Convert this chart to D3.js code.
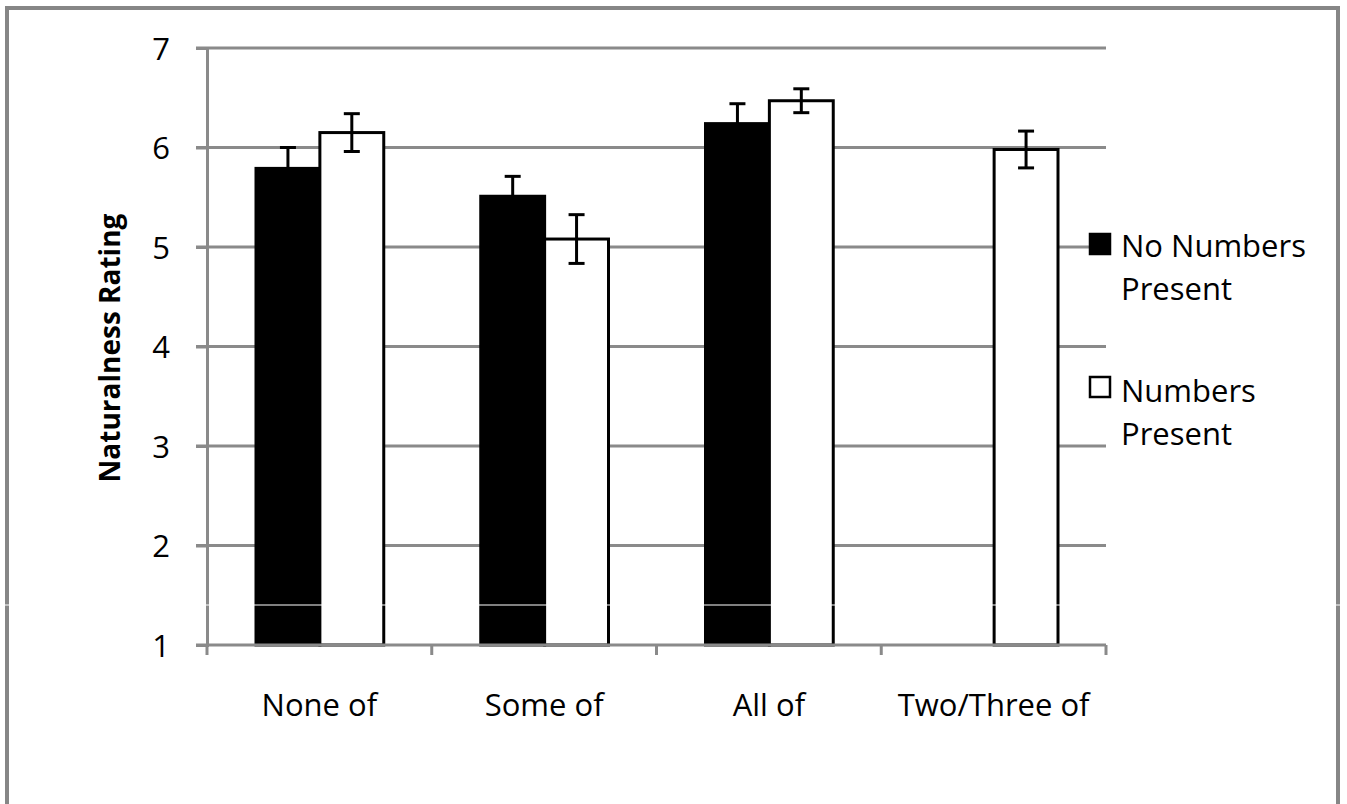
<!DOCTYPE html>
<html><head><meta charset="utf-8">
<script src="https://cdn.jsdelivr.net/npm/d3@7"></script>
<style>body{margin:0;background:#fff}svg{display:block}text{font-family:"Open Sans","Liberation Sans",sans-serif}</style>
</head><body>
<script>
const categories = ["None of", "Some of", "All of", "Two/Three of"];
const seriesNames = ["No Numbers Present", "Numbers Present"];
const noNumbers = [5.79, 5.51, 6.24, null];
const noNumbersErr = [0.21, 0.20, 0.20, null];
const numbers = [6.15, 5.08, 6.47, 5.98];
const numbersErr = [0.19, 0.245, 0.12, 0.185];
const yTicks = [1, 2, 3, 4, 5, 6, 7];

const W = 1347, H = 804;
const svg = d3.select("body").append("svg").attr("width", W).attr("height", H);

// outer frame
svg.append("path").attr("d", `M7,${H} V8 H1338 V${H}`).attr("fill","none").attr("stroke","#868686").attr("stroke-width",4);

const x0 = d3.scaleBand().domain(categories).range([207, 1106]).paddingInner(0).paddingOuter(0);
const x1 = d3.scaleBand().domain(seriesNames).range([49, x0.bandwidth() - 48]);
const y = d3.scaleLinear().domain([1, 7]).range([645, 48]);

const grid = "#8a8a8a";
// gridlines
svg.append("g").selectAll("line").data(yTicks.filter(t => t > 1)).join("line")
  .attr("x1", 196).attr("x2", 1106).attr("y1", d => y(d)).attr("y2", d => y(d))
  .attr("stroke", grid).attr("stroke-width", 3);

// y axis
const yAxis = svg.append("g").attr("transform", "translate(207,0)")
  .call(d3.axisLeft(y).tickValues(yTicks).tickSize(11).tickPadding(26).tickFormat(d3.format("d")));
yAxis.select(".domain").attr("stroke", grid).attr("stroke-width", 3);
yAxis.selectAll(".tick line").attr("stroke", grid).attr("stroke-width", 3);
yAxis.selectAll(".tick text").attr("font-size", 31).attr("fill", "#000").attr("dy", "0.36em");

// bars
const data = categories.map((c, i) => ({c, vals: [
  {s: seriesNames[0], v: noNumbers[i], e: noNumbersErr[i]},
  {s: seriesNames[1], v: numbers[i], e: numbersErr[i]}
]}));
const groups = svg.append("g").selectAll("g").data(data).join("g")
  .attr("transform", d => `translate(${x0(d.c)},0)`);
const items = groups.selectAll("g").data(d => d.vals.filter(v => v.v != null)).join("g");
items.append("rect")
  .attr("x", d => x1(d.s)).attr("width", x1.bandwidth())
  .attr("y", d => y(d.v)).attr("height", d => y(1) - y(d.v))
  .attr("fill", d => d.s === seriesNames[0] ? "#000" : "#fff")
  .attr("stroke", "#000").attr("stroke-width", 3);
// error bars
items.append("line")
  .attr("x1", d => x1(d.s) + x1.bandwidth()/2).attr("x2", d => x1(d.s) + x1.bandwidth()/2)
  .attr("y1", d => y(d.v + d.e)).attr("y2", d => y(d.v - d.e))
  .attr("stroke", "#000").attr("stroke-width", 3);
items.selectAll("line.cap").data(d => [d.v + d.e, d.v - d.e].map(v => ({v, d}))).join("line")
  .attr("class","cap")
  .attr("x1", k => x1(k.d.s) + x1.bandwidth()/2 - 8).attr("x2", k => x1(k.d.s) + x1.bandwidth()/2 + 8)
  .attr("y1", k => y(k.v)).attr("y2", k => y(k.v))
  .attr("stroke", "#000").attr("stroke-width", 3);

// x axis
const xAxis = svg.append("g").attr("transform", `translate(0,${y(1)})`);
xAxis.append("line").attr("x1", 196).attr("x2", 1106).attr("y1", 0).attr("y2", 0).attr("stroke", grid).attr("stroke-width", 3);
const xt = x0.domain().map(c => x0(c)).concat([x0.range()[1]]);
xAxis.selectAll("line.t").data(xt).join("line").attr("class","t")
  .attr("x1", d => d).attr("x2", d => d).attr("y1", 0).attr("y2", 10).attr("stroke", grid).attr("stroke-width", 3);
xAxis.selectAll("text").data(categories).join("text")
  .attr("x", d => x0(d) + x0.bandwidth()/2).attr("y", 71)
  .attr("text-anchor", "middle").attr("font-size", 31).text(d => d);

// y title
svg.append("text").attr("transform", "translate(120,348) rotate(-90)")
  .attr("text-anchor", "middle").attr("font-size", 28).attr("font-weight", "bold").text("Naturalness Rating");

// legend
const legend = [
  {s: seriesNames[0], lines: ["No Numbers", "Present"], fill: "#000", y: 233, base: 257},
  {s: seriesNames[1], lines: ["Numbers", "Present"], fill: "#fff", y: 376, base: 402}
];
const lg = svg.append("g").selectAll("g").data(legend).join("g");
lg.append("rect").attr("x", 1090).attr("y", d => d.y + 1).attr("width", 20).attr("height", 20)
  .attr("fill", d => d.fill).attr("stroke", "#000").attr("stroke-width", 2.5);
lg.each(function(d){
  const t = d3.select(this).append("text").attr("x", 1121).attr("y", d.base).attr("font-size", 31);
  d.lines.forEach((l, i) => t.append("tspan").attr("x", 1121).attr("dy", i ? 43 : 0).text(l));
});

// thin white artifact line
svg.append("line").attr("x1", 0).attr("x2", W).attr("y1", 605).attr("y2", 605).attr("stroke", "#fff").attr("stroke-width", 1);
</script>
</body></html>
